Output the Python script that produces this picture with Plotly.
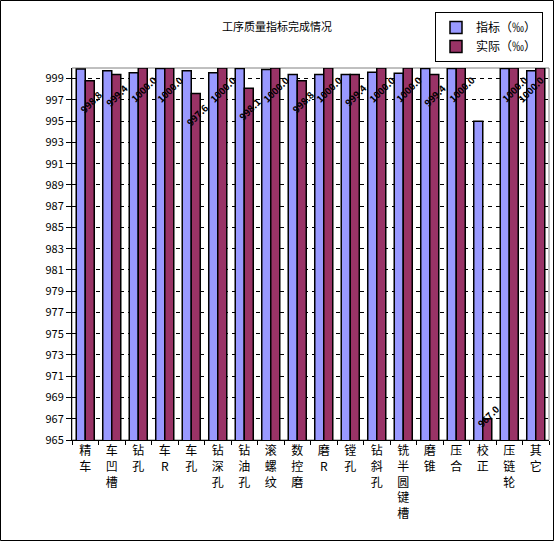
import plotly.graph_objects as go

categories = ["精车", "车凹槽", "钻孔", "车R", "车孔", "钻深孔", "钻油孔", "滚螺纹", "数控磨",
              "磨R", "镗孔", "钻斜孔", "铣半圆键槽", "磨锥", "压合", "校正", "压链轮", "其它"]
target = [999.9, 999.75, 999.55, 999.95, 999.75, 999.55, 999.95, 999.85, 999.4,
          999.4, 999.4, 999.6, 999.5, 999.95, 999.95, 995.0, 999.95, 999.75]
actual = [998.8, 999.4, 1000.0, 1000.0, 997.6, 1000.0, 998.1, 1000.0, 998.8,
          1000.0, 999.4, 1000.0, 1000.0, 999.4, 1000.0, 967.0, 1000.0, 1000.0]
series_names = ["指标（‰）", "实际（‰）"]
y_ticks = list(range(965, 1000, 2))

FONT = "Noto Sans CJK SC"
W, H = 554, 541
L, R, T, B = 72, 5, 68, 101
pw, ph = W - L - R, H - T - B
ymin, ymax = 965, 1000
px_per_unit = ph / (ymax - ymin)

tick_text = ["<br>".join(list(c)) for c in categories]

fig = go.Figure()
fig.add_trace(go.Bar(x=categories, y=target, name=series_names[0],
                     marker=dict(color="#9999FF", line=dict(color="black", width=1.5))))
fig.add_trace(go.Bar(x=categories, y=actual, name=series_names[1],
                     marker=dict(color="#993366", line=dict(color="black", width=1.5))))

cat_w = pw / len(categories)
bar_w = cat_w * (1 - 0.32) / 2
label_half_w = 12
annotations = []
for i, (c, v) in enumerate(zip(categories, actual)):
    h_px = (v - ymin) * px_per_unit
    ysh = 3 if h_px < 40 else -21
    xsh = bar_w / 2 + 1
    center_px = (i + 0.5) * cat_w + xsh
    if center_px + label_half_w > pw - 6:
        xsh -= center_px + label_half_w - (pw - 6)
    annotations.append(dict(x=c, y=v, xref="x", yref="y", text=f"<b>{v:.1f}</b>",
                            showarrow=False, textangle=-45, xshift=xsh,
                            yshift=ysh, font=dict(family=FONT, size=9.5, color="black"),
                            xanchor="center", yanchor="middle"))
annotations.append(dict(x=(277 - L) / pw, y=1 + (T - 26) / ph, xref="paper", yref="paper",
                        text="工序质量指标完成情况", showarrow=False,
                        font=dict(family=FONT, size=11, color="black"),
                        xanchor="center", yanchor="middle"))

shapes = [
    dict(type="rect", xref="paper", yref="paper", x0=0, x1=1, y0=0, y1=1,
         line=dict(color="#808080", width=1), layer="below"),
    dict(type="rect", xref="paper", yref="paper",
         x0=(0.5 - L) / pw, x1=(W - 0.5 - L) / pw,
         y0=-(B - 0.5) / ph, y1=1 + (T - 0.5) / ph,
         line=dict(color="black", width=1)),
]

fig.update_layout(
    width=W, height=H,
    margin=dict(l=L, r=R, t=T, b=B, autoexpand=False),
    paper_bgcolor="white", plot_bgcolor="white",
    barmode="group", bargap=0.32, bargroupgap=0,
    font=dict(family=FONT, size=11, color="black"),
    showlegend=True,
    legend=dict(x=(543 - L) / pw, y=1 + (T - 12) / ph, xanchor="right", yanchor="top",
                bordercolor="black", borderwidth=1, bgcolor="white",
                font=dict(family=FONT, size=12, color="black"),
                tracegroupgap=0, itemwidth=30),
    annotations=annotations,
    shapes=shapes,
    xaxis=dict(type="category", tickvals=categories, ticktext=tick_text,
               showline=True, linecolor="black", linewidth=1,
               ticks="outside", tickson="boundaries", ticklen=4, tickcolor="black",
               tickfont=dict(family=FONT, size=12, color="black"),
               showgrid=False, range=[-0.5, len(categories) - 0.5]),
    yaxis=dict(range=[ymin, ymax], tickvals=y_ticks, ticktext=[str(t) for t in y_ticks],
               showline=True, linecolor="black", linewidth=1,
               ticks="outside", ticklen=5, tickcolor="black",
               tickfont=dict(family=FONT, size=11, color="black"),
               showgrid=True, gridcolor="black", gridwidth=1, griddash="4px,4px",
               zeroline=False),
)

fig.write_html("out.html", config={"displayModeBar": False},
               post_script="document.body.style.margin='0';document.body.style.overflow='hidden';")
